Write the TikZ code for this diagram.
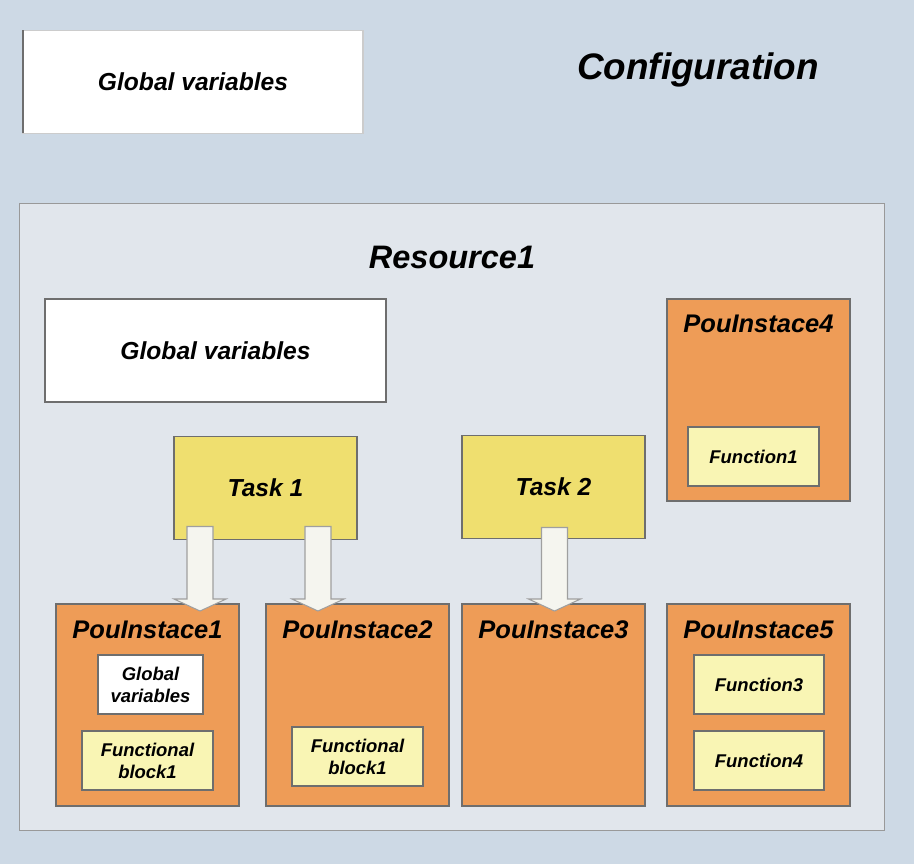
\documentclass[tikz,border=0pt]{standalone}
\usepackage{fontspec}
\setmainfont{Liberation Sans}
\usepackage{tikz}
\usetikzlibrary{calc}

\definecolor{bgblue}{HTML}{CDD9E5}
\definecolor{resfill}{HTML}{E1E6EC}
\definecolor{pouorange}{HTML}{EE9C57}
\definecolor{taskyellow}{HTML}{EFDF6F}
\definecolor{funcyellow}{HTML}{F9F5B4}
\definecolor{arrowwhite}{HTML}{F5F5EF}
\definecolor{edgegray}{HTML}{6E6E6E}

% block arrow from top point #1 down to tip #2
\newcommand{\blockarrow}[2]{%
  \draw[blockarr] ($(#1)+(-13,0)$) -- ($(#2)+(-13,-12)$) -- ($(#2)+(-26,-12)$) -- (#2)
    -- ($(#2)+(26,-12)$) -- ($(#2)+(13,-12)$) -- ($(#1)+(13,0)$) -- cycle;}

\begin{document}
\begin{tikzpicture}[x=0.02cm,y=-0.02cm,font=\bfseries\itshape,
  box/.style={inner sep=0pt,outer sep=0pt,draw=edgegray,line width=0.6pt},
  glob/.style={box,fill=white,draw=gray!60,minimum width=#1*0.02cm,minimum height=103*0.02cm,font=\bfseries\itshape\fontsize{14}{17}\selectfont},
  task/.style={box,fill=taskyellow,minimum width=3.66cm,minimum height=2.06cm,font=\bfseries\itshape\fontsize{14}{17}\selectfont},
  pou/.style={box,fill=pouorange,minimum width=3.66cm,minimum height=4.04cm},
  poutitle/.style={font=\bfseries\itshape\fontsize{14.5}{17}\selectfont,inner sep=0pt},
  func/.style={box,fill=funcyellow,minimum width=2.62cm,minimum height=1.18cm,align=center,font=\bfseries\itshape\fontsize{10.5}{12.6}\selectfont},
  blockarr/.style={fill=arrowwhite,draw=gray!75,line width=0.6pt,line join=miter}]
\fill[bgblue] (0,0) rectangle (914,864);

\node[glob=340,draw=gray!40] (gvtop) at (193,82) {Global variables};
\draw[edgegray,line width=0.8pt] (gvtop.north west) -- (gvtop.south west);
\node[font=\bfseries\itshape\fontsize{21}{25}\selectfont] (config) at (698,70) {Configuration};

\node[box,fill=resfill,draw=gray!80,minimum width=17.32cm,minimum height=12.56cm] (res) at (452,517) {};
\node[font=\bfseries\itshape\fontsize{18.5}{22}\selectfont] (restitle) at (452,257) {Resource1};
\node[glob=341,draw=edgegray] (gvres) at (215.5,350.5) {Global variables};

\node[task] (task1) at (265.5,488) {Task 1};
\node[task] (task2) at (553.5,487) {Task 2};

\node[pou] (pou4) at (758.5,400) {};
\node[poutitle] (pou4t) at (758.5,324) {PouInstace4};
\node[func] (func1) at (753.5,456.5) {Function1};

\foreach \n/\x in {1/147.5,2/357.5,3/553.5,5/758.5} {
  \node[pou] (pou\n) at (\x,705) {};
  \node[poutitle] (pou\n t) at (\x,630) {PouInstace\n};
}

\node[func,fill=white,minimum width=2.1cm] (gvpou) at (150.5,684.5) {Global\\variables};
\node[func] (fb1) at (147.5,760.5) {Functional\\block1};
\node[func] (fb2) at (357.5,756.5) {Functional\\block1};
\node[func,minimum width=2.6cm] (func3) at (759,684.5) {Function3};
\node[func,minimum width=2.6cm] (func4) at (759,760.5) {Function4};

% task -> pou arrows
\coordinate (a1s) at ($(task1.south west)+(26,-13)$);
\coordinate (a1e) at ($(a1s |- pou1.north)+(0,7)$);
\coordinate (a2s) at ($(task1.south east)+(-39,-13)$);
\coordinate (a2e) at ($(a2s |- pou2.north)+(0,7)$);
\coordinate (a3s) at ($(task2.south)+(1,-11)$);
\coordinate (a3e) at ($(a3s |- pou3.north)+(0,7)$);
\blockarrow{a1s}{a1e}
\blockarrow{a2s}{a2e}
\blockarrow{a3s}{a3e}
\end{tikzpicture}
\end{document}
